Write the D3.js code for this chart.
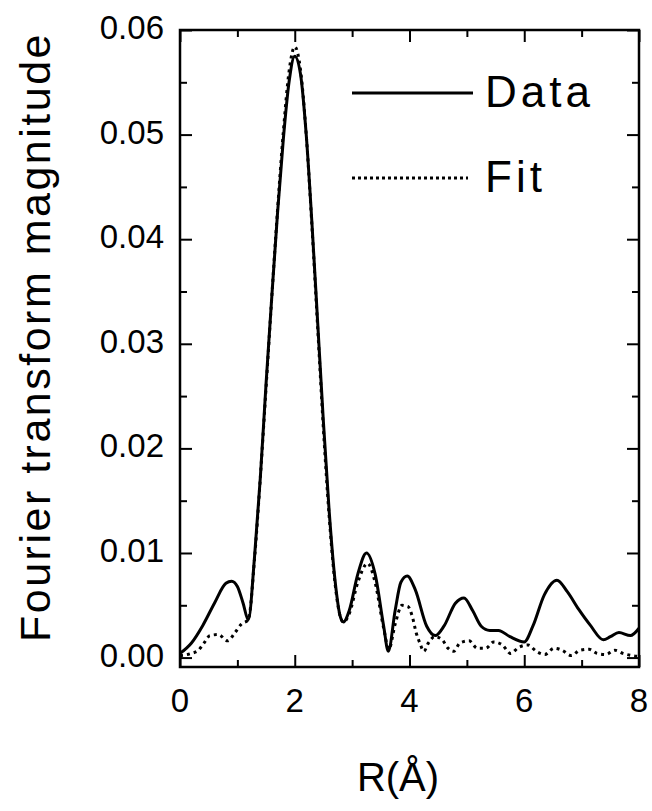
<!DOCTYPE html>
<html>
<head>
<meta charset="utf-8">
<script src="https://cdn.jsdelivr.net/npm/d3@7"></script>
<style>
  body { margin: 0; background: #fff; }
  text { font-family: "Liberation Sans", Arial, sans-serif; fill: #000; }
</style>
</head>
<body>
<div id="chart"></div>
<script>
// measured data (solid)
const rData = [0.0, 0.2, 0.4, 0.6, 0.8, 0.9, 1.0, 1.1, 1.19, 1.3, 1.4, 1.5, 1.6, 1.7, 1.8, 1.9, 2.0,
  2.1, 2.2, 2.3, 2.4, 2.5, 2.6, 2.7, 2.8, 2.85, 2.95, 3.1, 3.25, 3.4, 3.55, 3.63, 3.75, 3.85, 3.96,
  4.1, 4.3, 4.45, 4.6, 4.8, 4.95, 5.1, 5.25, 5.4, 5.55, 5.75, 6.0, 6.15, 6.35, 6.57, 6.75, 6.95,
  7.15, 7.38, 7.5, 7.65, 7.85, 8.0];
const magData = [0.0004, 0.0014, 0.0031, 0.0052, 0.0071, 0.0073, 0.0068, 0.0052, 0.0036, 0.0097, 0.0172, 0.0262, 0.0345, 0.0425, 0.0495, 0.0550, 0.0575,
  0.0558, 0.0500, 0.0415, 0.0320, 0.0225, 0.0140, 0.0075, 0.0038, 0.0034, 0.0045, 0.0080, 0.0100, 0.0080, 0.0030, 0.0006, 0.0045, 0.0072, 0.0078,
  0.0065, 0.0030, 0.0021, 0.0030, 0.0052, 0.0057, 0.0045, 0.0030, 0.0026, 0.0026, 0.0020, 0.0015, 0.0030, 0.0060, 0.0074, 0.0063, 0.0046,
  0.0031, 0.0017, 0.0020, 0.0024, 0.0021, 0.0028];

// fit (dotted)
const rFit = [0.0, 0.2, 0.32, 0.42, 0.52, 0.67, 0.83, 0.96, 1.07, 1.19, 1.3, 1.4, 1.5, 1.6, 1.7, 1.8, 1.9, 2.0,
  2.1, 2.2, 2.3, 2.4, 2.5, 2.6, 2.7, 2.8, 2.85, 2.95, 3.1, 3.27, 3.4, 3.55, 3.64, 3.75, 3.87, 3.97,
  4.05, 4.12, 4.18, 4.25, 4.33, 4.44, 4.57, 4.67, 4.77, 4.88, 5.04, 5.18, 5.33, 5.47, 5.62, 5.76, 5.91,
  6.07, 6.21, 6.36, 6.52, 6.66, 6.82, 6.97, 7.13, 7.27, 7.42, 7.58, 7.72, 7.87, 8.0];
const magFit = [0.0002, 0.0004, 0.0007, 0.0014, 0.0021, 0.0022, 0.0016, 0.0024, 0.0032, 0.0036, 0.0095, 0.0172, 0.0258, 0.0345, 0.0428, 0.0502, 0.0560, 0.0584,
  0.0562, 0.0500, 0.0412, 0.0315, 0.0218, 0.0135, 0.0072, 0.0038, 0.0034, 0.0042, 0.0072, 0.0090, 0.0072, 0.0028, 0.0008, 0.0032, 0.0050, 0.0049,
  0.0039, 0.0023, 0.0014, 0.0006, 0.0014, 0.0020, 0.0017, 0.0009, 0.0006, 0.0014, 0.0016, 0.0009, 0.0009, 0.0015, 0.0012, 0.0004, 0.0010,
  0.0012, 0.0006, 0.0003, 0.0009, 0.0007, 0.0002, 0.0007, 0.0008, 0.0004, 0.0003, 0.0007, 0.0004, 0.0002, 0.0001];

const xMajor = [0, 2, 4, 6, 8];
const xMinor = [1, 3, 5, 7];
const yMajor = [0.00, 0.01, 0.02, 0.03, 0.04, 0.05, 0.06];
const yMinor = [0.005, 0.015, 0.025, 0.035, 0.045, 0.055];
const legendNames = ["Data", "Fit"];

const W = 652, H = 811;
const plot = { left: 180, right: 639, top: 30, bottom: 667 };

const svg = d3.select("#chart").append("svg")
  .attr("width", W).attr("height", H);

const x = d3.scaleLinear().domain([0, 8]).range([plot.left, plot.right]);
const y = d3.scaleLinear().domain([-0.0009, 0.06]).range([plot.bottom, plot.top]);

// curves
const line = d3.line()
  .x(d => x(d[0]))
  .y(d => y(d[1]))
  .curve(d3.curveMonotoneX);

svg.append("path")
  .datum(d3.zip(rFit, magFit))
  .attr("fill", "none")
  .attr("stroke", "#000")
  .attr("stroke-width", 3)
  .attr("stroke-dasharray", "3,4")
  .attr("d", line);

svg.append("path")
  .datum(d3.zip(rData, magData))
  .attr("fill", "none")
  .attr("stroke", "#000")
  .attr("stroke-width", 3)
  .attr("d", line);

// axes: ticks inside on all four sides
const maj = 12, mnr = 7;
svg.append("g").attr("transform", "translate(0," + plot.bottom + ")")
  .call(d3.axisTop(x).tickValues(xMajor).tickSize(maj).tickFormat(""));
svg.append("g").attr("transform", "translate(0," + plot.bottom + ")")
  .call(d3.axisTop(x).tickValues(xMinor).tickSize(mnr).tickFormat(""));
svg.append("g").attr("transform", "translate(0," + plot.top + ")")
  .call(d3.axisBottom(x).tickValues(xMajor).tickSize(maj).tickFormat(""));
svg.append("g").attr("transform", "translate(0," + plot.top + ")")
  .call(d3.axisBottom(x).tickValues(xMinor).tickSize(mnr).tickFormat(""));
svg.append("g").attr("transform", "translate(" + plot.left + ",0)")
  .call(d3.axisRight(y).tickValues(yMajor).tickSize(maj).tickFormat(""));
svg.append("g").attr("transform", "translate(" + plot.left + ",0)")
  .call(d3.axisRight(y).tickValues(yMinor).tickSize(mnr).tickFormat(""));
svg.append("g").attr("transform", "translate(" + plot.right + ",0)")
  .call(d3.axisLeft(y).tickValues(yMajor).tickSize(maj).tickFormat(""));
svg.append("g").attr("transform", "translate(" + plot.right + ",0)")
  .call(d3.axisLeft(y).tickValues(yMinor).tickSize(mnr).tickFormat(""));

svg.selectAll(".domain").remove();
svg.selectAll(".tick line").attr("stroke", "#000").attr("stroke-width", 2);

svg.append("rect")
  .attr("x", plot.left).attr("y", plot.top)
  .attr("width", plot.right - plot.left).attr("height", plot.bottom - plot.top)
  .attr("fill", "none").attr("stroke", "#000").attr("stroke-width", 2.5);

// tick labels
svg.append("g").selectAll("text")
  .data(xMajor).enter().append("text")
  .attr("x", d => x(d)).attr("y", 712)
  .attr("text-anchor", "middle")
  .style("font-size", "33px")
  .text(d => d);

svg.append("g").selectAll("text")
  .data(yMajor).enter().append("text")
  .attr("x", 164).attr("y", d => y(d) + 9)
  .attr("text-anchor", "end")
  .style("font-size", "33px")
  .text(d => d3.format(".2f")(d));

// axis titles
svg.append("text")
  .attr("x", 398).attr("y", 791)
  .attr("text-anchor", "middle")
  .style("font-size", "40px")
  .text("R(Å)");

svg.append("text")
  .attr("transform", "translate(50," + 337 + ") rotate(-90)")
  .attr("text-anchor", "middle")
  .style("font-size", "43px")
  .style("letter-spacing", "2.5px")
  .text("Fourier transform magnitude");

// legend
const leg = svg.append("g");
leg.append("line")
  .attr("x1", 352).attr("x2", 473).attr("y1", 93).attr("y2", 93)
  .attr("stroke", "#000").attr("stroke-width", 3);
leg.append("line")
  .attr("x1", 352).attr("x2", 468).attr("y1", 178).attr("y2", 178)
  .attr("stroke", "#000").attr("stroke-width", 3)
  .attr("stroke-dasharray", "3,3");
leg.selectAll("text")
  .data(legendNames).enter().append("text")
  .attr("x", 485).attr("y", (d, i) => 107 + i * 85)
  .style("font-size", "44px")
  .style("letter-spacing", "4px")
  .text(d => d);
</script>
</body>
</html>
